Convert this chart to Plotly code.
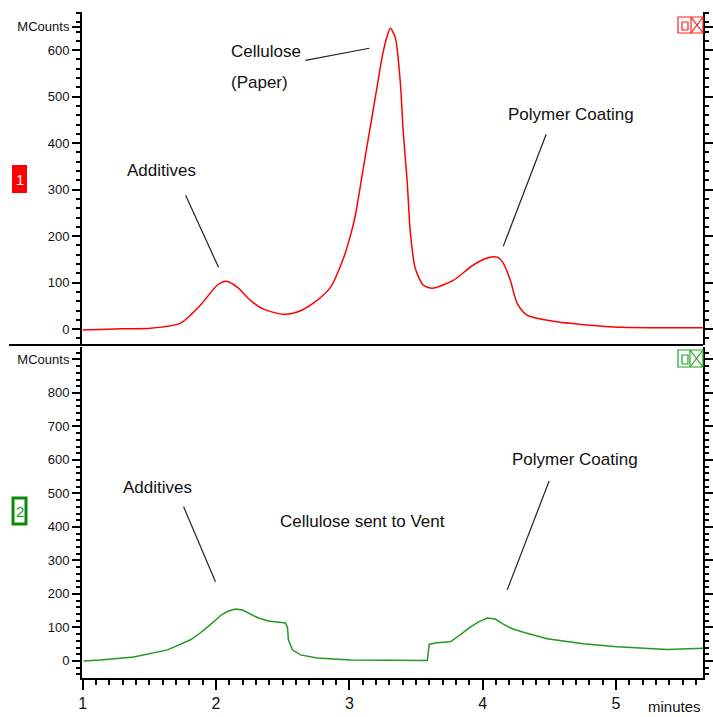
import plotly.graph_objects as go
from plotly.subplots import make_subplots

# ---- data ----
red_t = [1.00, 1.285, 1.509, 1.734, 1.884, 2.011, 2.079, 2.161, 2.258, 2.356, 2.506, 2.610,
         2.730, 2.858, 2.955, 3.007, 3.045, 3.097, 3.135, 3.172, 3.210, 3.247, 3.285, 3.307,
         3.345, 3.382, 3.404, 3.434, 3.457, 3.494, 3.554, 3.622, 3.779, 3.929, 4.034, 4.109,
         4.154, 4.207, 4.258, 4.333, 4.528, 4.783, 5.030, 5.652]
red_v = [-2, 1, 2, 13, 52, 95, 103, 90, 62, 43, 32, 37,
         56, 90, 152, 200, 245, 333, 398, 460, 525, 587, 632, 647,
         626, 531, 424, 316, 209, 131, 95, 88, 105, 138, 153, 155,
         142, 105, 56, 30, 17, 9, 4, 3]

green_t = [1.007, 1.135, 1.382, 1.637, 1.809, 1.884, 1.944, 1.996, 2.049, 2.094, 2.146, 2.199,
           2.258, 2.318, 2.393, 2.461, 2.521, 2.536, 2.543, 2.573, 2.633, 2.760, 3.007, 3.584,
           3.599, 3.659, 3.757, 3.831, 3.906, 3.966, 4.034, 4.094, 4.154, 4.221, 4.318, 4.483,
           4.753, 5.007, 5.382, 5.652]
green_v = [0, 3, 12, 33, 63, 84, 104, 122, 140, 149, 155, 152,
           140, 128, 119, 116, 113, 100, 63, 33, 18, 9, 3, 1,
           50, 54, 57, 78, 101, 116, 128, 125, 110, 96, 84, 66,
           51, 42, 34, 38]

top_ticks = [0, 100, 200, 300, 400, 500, 600, 650]
top_ticktext = ["0", "100", "200", "300", "400", "500", "600", "MCounts"]
bot_ticks = [0, 100, 200, 300, 400, 500, 600, 700, 800, 900]
bot_ticktext = ["0", "100", "200", "300", "400", "500", "600", "700", "800", "MCounts"]
x_ticks = [1, 2, 3, 4, 5]

W, H = 713, 717
L, R, T, B = 82, 10, 12, 39
PW, PH = W - L - R, H - T - B


def px(x):
    return (x - L) / PW


def py(y):
    return (H - B - y) / PH


FONT = "Liberation Sans, Arial, sans-serif"

fig = make_subplots(rows=2, cols=1, shared_xaxes=True, vertical_spacing=0.003)

fig.add_trace(go.Scatter(x=red_t, y=red_v, mode="lines",
                         line=dict(color="#ff0000", width=1.5, shape="spline", smoothing=0.7),
                         hoverinfo="skip", showlegend=False), row=1, col=1)
fig.add_trace(go.Scatter(x=green_t, y=green_v, mode="lines",
                         line=dict(color="#229a22", width=1.5),
                         hoverinfo="skip", showlegend=False), row=2, col=1)

yaxis_common = dict(showline=True, linecolor="black", linewidth=2, ticks="outside",
                    ticklen=8, tickwidth=1.5, tickcolor="black", mirror="ticks",
                    showgrid=False, zeroline=False, automargin=False,
                    tickfont=dict(family=FONT, size=13, color="#111111"),
                    minor=dict(tickmode="linear", tick0=0, dtick=20, ticklen=4,
                               tickwidth=1.5, tickcolor="black", ticks="outside", showgrid=False))

fig.update_layout(
    width=W, height=H, margin=dict(l=L, r=R, t=T, b=B, autoexpand=False),
    paper_bgcolor="white", plot_bgcolor="white",
    xaxis=dict(visible=False, range=[0.995, 5.652], domain=[0, 1], automargin=False),
    xaxis2=dict(range=[0.995, 5.652], domain=[0, 1], showline=True, linecolor="black",
                linewidth=2, ticks="outside", ticklen=10, tickwidth=1.5, tickcolor="black",
                tickvals=x_ticks, showgrid=False, zeroline=False, automargin=False,
                tickfont=dict(family=FONT, size=16, color="#111111"),
                minor=dict(tickmode="linear", tick0=1, dtick=0.1, ticklen=5, tickwidth=1.5,
                           tickcolor="black", ticks="outside", showgrid=False)),
    yaxis=dict(domain=[py(345), 1.0], range=[-34, 682], tickvals=top_ticks,
               ticktext=top_ticktext, **yaxis_common),
    yaxis2=dict(domain=[0, py(347)], range=[-51, 937], tickvals=bot_ticks,
                ticktext=bot_ticktext, **yaxis_common),
)

shapes = []
# divider line
shapes.append(dict(type="line", xref="paper", yref="paper", x0=px(9), x1=px(703),
                   y0=py(345), y1=py(345), line=dict(color="black", width=2)))


def icon(y0, y1, xd, color):
    out = []
    out.append(dict(type="rect", xref="paper", yref="paper", x0=px(678), x1=px(703),
                    y0=py(y1), y1=py(y0), line=dict(color=color, width=1.2)))
    out.append(dict(type="line", xref="paper", yref="paper", x0=px(xd), x1=px(xd),
                    y0=py(y1), y1=py(y0), line=dict(color=color, width=1.2)))
    out.append(dict(type="rect", xref="paper", yref="paper", x0=px(682), x1=px(688),
                    y0=py(y1 - 3), y1=py(y0 + 5), line=dict(color=color, width=1.2)))
    out.append(dict(type="line", xref="paper", yref="paper", x0=px(xd), x1=px(703),
                    y0=py(y0), y1=py(y1), line=dict(color=color, width=1.2)))
    out.append(dict(type="line", xref="paper", yref="paper", x0=px(xd), x1=px(703),
                    y0=py(y1), y1=py(y0), line=dict(color=color, width=1.2)))
    return out


shapes += icon(17, 33, 691, "#ff2020")
shapes += icon(350, 367, 690, "#22a022")

# channel boxes
shapes.append(dict(type="rect", xref="paper", yref="paper", x0=px(12), x1=px(27),
                   y0=py(193), y1=py(165), fillcolor="#ff0000", line=dict(width=0)))
shapes.append(dict(type="rect", xref="paper", yref="paper", x0=px(13), x1=px(26),
                   y0=py(524), y1=py(498), fillcolor="white",
                   line=dict(color="#0a8a0a", width=3)))

# pointer lines (data coords)
pointers = [
    ("x", "y", 2.670, 578, 3.150, 604),
    ("x", "y", 1.772, 288, 2.019, 133),
    ("x", "y", 4.476, 419, 4.154, 178),
    ("x2", "y2", 1.757, 460, 1.996, 236),
    ("x2", "y2", 4.498, 537, 4.184, 212),
]
for xr, yr, x0, y0, x1, y1 in pointers:
    shapes.append(dict(type="line", xref=xr, yref=yr, x0=x0, y0=y0, x1=x1, y1=y1,
                       line=dict(color="#222222", width=1.2)))

fig.update_layout(shapes=shapes)

anns = []


def txt(text, x, y, size=17, color="#111111", xanchor="left"):
    anns.append(dict(text=text, xref="paper", yref="paper", x=px(x), y=py(y),
                     xanchor=xanchor, yanchor="middle", showarrow=False,
                     font=dict(family=FONT, size=size, color=color)))


txt("Cellulose", 229, 52)
txt("(Paper)", 229, 83)
txt("Additives", 125, 170)
txt("Polymer Coating", 506, 114)
txt("Additives", 121, 487)
txt("Cellulose sent to Vent", 278, 521)
txt("Polymer Coating", 510, 460)
txt("minutes", 703, 706, size=15, xanchor="right")
txt("1", 19.5, 180, size=15, color="white", xanchor="center")
txt("2", 19.5, 512, size=15, color="#1a9a1a", xanchor="center")

fig.update_layout(annotations=anns)

fig.write_html("out.html", config={"displayModeBar": False},
               post_script="document.body.style.margin='0px';document.body.style.overflow='hidden';")
